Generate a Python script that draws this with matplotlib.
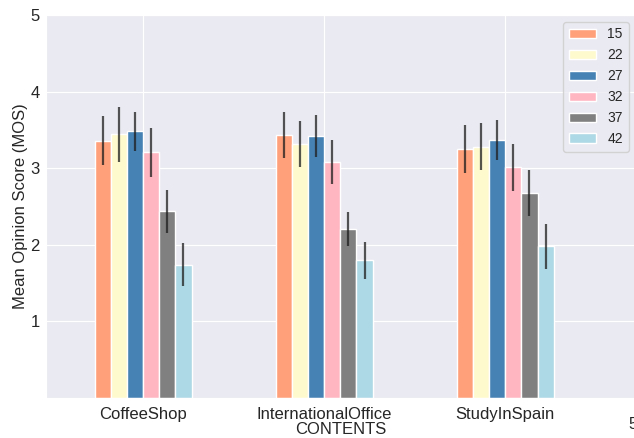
import numpy as np
import matplotlib
matplotlib.use("Agg")
import matplotlib.pyplot as plt
import seaborn as sns

# Mean opinion scores per content and QP value
contents = ["CoffeeShop", "InternationalOffice", "StudyInSpain"]
qp_labels = ["15", "22", "27", "32", "37", "42"]
mos = {
    "15": [3.36, 3.43, 3.25],
    "22": [3.44, 3.32, 3.28],
    "27": [3.48, 3.42, 3.37],
    "32": [3.21, 3.08, 3.01],
    "37": [2.44, 2.21, 2.67],
    "42": [1.74, 1.80, 1.98],
}
mos_err = {
    "15": [0.32, 0.30, 0.31],
    "22": [0.36, 0.30, 0.31],
    "27": [0.26, 0.27, 0.26],
    "32": [0.32, 0.29, 0.31],
    "37": [0.28, 0.22, 0.30],
    "42": [0.28, 0.24, 0.29],
}
colors = ["lightsalmon", "lemonchiffon", "steelblue", "lightpink", "gray", "lightblue"]

sns.set_style("darkgrid")
plt.rcParams["font.family"] = ["Liberation Sans", "DejaVu Sans"]

fig = plt.figure(figsize=(6.34, 4.38), dpi=100)
ax = fig.add_axes([0.0726, 0.0913, 0.93, 0.8745])

x = np.arange(len(contents))
group_width = 0.535
bar_w = group_width / len(qp_labels)
for i, (qp, col) in enumerate(zip(qp_labels, colors)):
    pos = x - group_width / 2 + bar_w * (i + 0.5)
    ax.bar(pos, mos[qp], bar_w, color=col, edgecolor="white", linewidth=1.0,
           label=qp, zorder=2)
    ax.errorbar(pos, mos[qp], yerr=mos_err[qp], fmt="none", ecolor="#1e1e1e",
                elinewidth=1.6, alpha=0.75, capsize=0, zorder=3)

ax.set_xlim(-0.536, 2.72)
ax.set_ylim(0, 5)
ax.set_yticks([1, 2, 3, 4, 5])
ax.set_xticks(x)
ax.set_xticklabels(contents)
ax.tick_params(axis="x", labelsize=12, pad=3)
ax.tick_params(axis="y", labelsize=12, pad=1)
ax.set_xlabel("CONTENTS", fontsize=12, labelpad=0)
ax.set_ylabel("Mean Opinion Score (MOS)", fontsize=12, labelpad=2)

ax.legend(loc="upper right", fontsize=10, frameon=True)

fig.text(0.991, 0.02, "5", fontsize=12)

fig.savefig("out.png", dpi=100)
